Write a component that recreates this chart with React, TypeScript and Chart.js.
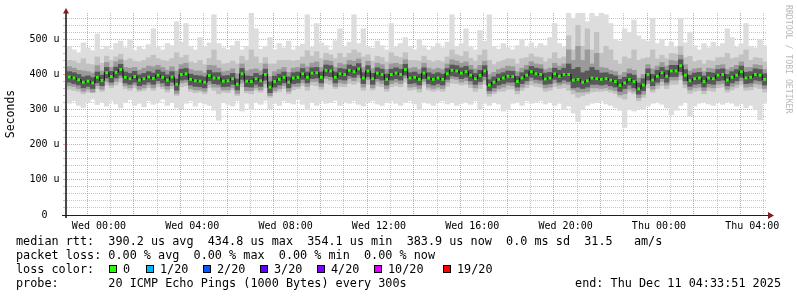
import { useEffect, useRef } from 'react';
import Chart from 'chart.js/auto';

// ---- time axis (hours relative to Wed 00:00) ----
const START_HOUR = -1.37;
const END_HOUR = 28.63;
const STEP_HOURS = 0.2;

// ---- series values (microseconds) ----
const median = [
  393, 390, 385, 378, 381, 376, 392, 383, 405, 394,
  406, 414, 392, 388, 394, 384, 388, 393, 389, 398,
  392, 384, 393, 372, 400, 402, 386, 382, 381, 378,
  397, 390, 390, 381, 382, 388, 372, 402, 381, 380,
  388, 382, 400, 364, 380, 386, 392, 378, 390, 392,
  402, 392, 404, 405, 392, 412, 410, 392, 402, 400,
  412, 408, 416, 390, 410, 388, 404, 400, 386, 400,
  404, 400, 414, 390, 392, 386, 404, 390, 386, 390,
  386, 402, 412, 410, 404, 408, 398, 388, 397, 410,
  370, 378, 386, 390, 395, 394, 380, 390, 398, 408,
  402, 400, 387, 390, 402, 395, 400, 400, 384, 386,
  378, 382, 390, 388, 386, 388, 384, 380, 369, 376,
  386, 380, 359, 370, 400, 384, 395, 405, 395, 410,
  410, 425, 398, 382, 388, 390, 380, 390, 388, 398,
  400, 384, 392, 398, 408, 390, 392, 400, 398, 386,
];

const darkHi = [
  408, 405, 400, 393, 396, 391, 407, 398, 420, 409,
  421, 429, 407, 403, 409, 399, 403, 408, 404, 413,
  407, 399, 408, 387, 415, 417, 401, 397, 396, 393,
  412, 405, 405, 396, 397, 403, 387, 417, 396, 395,
  403, 397, 415, 379, 395, 401, 407, 393, 405, 407,
  417, 407, 419, 420, 407, 427, 425, 407, 417, 415,
  427, 423, 431, 405, 425, 403, 419, 415, 401, 415,
  419, 415, 429, 405, 407, 401, 419, 405, 401, 405,
  401, 417, 427, 425, 419, 423, 413, 403, 412, 425,
  385, 393, 401, 405, 410, 409, 395, 405, 413, 423,
  418, 416, 404, 406, 418, 412, 418, 430, 415, 420,
  405, 410, 420, 412, 404, 405, 400, 396, 386, 392,
  402, 398, 376, 388, 416, 400, 412, 420, 412, 426,
  426, 442, 414, 398, 404, 406, 396, 406, 404, 414,
  416, 400, 408, 414, 424, 406, 408, 416, 414, 402,
];

const darkLo = [
  378, 374, 370, 362, 366, 360, 376, 368, 390, 378,
  390, 398, 376, 372, 378, 368, 372, 378, 372, 382,
  376, 368, 378, 355, 384, 386, 370, 366, 365, 362,
  382, 374, 372, 365, 366, 372, 356, 386, 365, 364,
  372, 366, 384, 348, 364, 370, 376, 362, 374, 376,
  386, 376, 388, 390, 376, 396, 394, 376, 386, 384,
  396, 392, 400, 374, 394, 372, 388, 384, 370, 384,
  388, 384, 398, 374, 376, 370, 388, 374, 370, 374,
  370, 386, 396, 394, 388, 392, 382, 372, 380, 394,
  354, 362, 370, 374, 378, 378, 364, 374, 382, 392,
  386, 384, 372, 374, 386, 378, 384, 380, 362, 364,
  360, 364, 372, 372, 370, 372, 368, 364, 352, 360,
  370, 362, 344, 354, 384, 368, 378, 388, 378, 394,
  394, 408, 382, 366, 372, 374, 364, 374, 372, 382,
  384, 368, 376, 382, 392, 374, 376, 384, 382, 370,
];

const midHi = [
  422, 418, 412, 410, 408, 404, 425, 410, 434, 420,
  436, 442, 420, 418, 420, 412, 418, 424, 422, 426,
  420, 412, 422, 410, 428, 432, 414, 410, 410, 404,
  426, 425, 418, 408, 410, 416, 402, 430, 410, 414,
  416, 410, 430, 394, 408, 414, 420, 406, 418, 420,
  430, 422, 432, 436, 420, 440, 438, 420, 432, 428,
  440, 438, 444, 420, 438, 416, 432, 428, 414, 430,
  432, 428, 442, 418, 420, 414, 432, 418, 414, 418,
  414, 430, 442, 438, 432, 436, 426, 416, 426, 438,
  400, 406, 414, 418, 424, 422, 408, 418, 426, 436,
  430, 428, 414, 418, 432, 424, 430, 470, 440, 480,
  440, 470, 430, 460, 420, 418, 412, 408, 398, 406,
  416, 412, 390, 400, 428, 416, 424, 434, 424, 440,
  438, 455, 428, 410, 416, 418, 408, 418, 416, 426,
  428, 414, 420, 426, 436, 420, 420, 428, 426, 414,
];

const midLo = [
  368, 366, 360, 352, 358, 350, 368, 358, 380, 370,
  380, 390, 368, 362, 370, 358, 362, 370, 362, 374,
  366, 358, 368, 346, 376, 378, 360, 356, 356, 352,
  372, 364, 364, 356, 356, 362, 346, 376, 354, 354,
  362, 356, 374, 340, 354, 360, 368, 352, 366, 366,
  376, 366, 380, 380, 366, 388, 384, 366, 376, 374,
  388, 382, 392, 364, 386, 362, 380, 374, 360, 374,
  378, 374, 390, 364, 366, 360, 380, 364, 360, 364,
  360, 378, 388, 386, 378, 382, 372, 362, 372, 384,
  346, 352, 360, 364, 370, 368, 354, 364, 372, 382,
  376, 374, 362, 364, 376, 370, 374, 372, 356, 350,
  350, 352, 362, 362, 360, 362, 358, 354, 342, 345,
  358, 352, 334, 344, 374, 358, 370, 380, 370, 384,
  384, 398, 372, 356, 362, 364, 354, 364, 362, 372,
  374, 358, 366, 372, 382, 364, 366, 374, 372, 360,
];

const outerHi = [
  440, 438, 432, 445, 430, 428, 450, 432, 452, 440,
  450, 458, 440, 445, 438, 436, 440, 448, 455, 445,
  440, 438, 445, 462, 448, 455, 436, 432, 440, 428,
  445, 470, 440, 430, 432, 438, 430, 452, 440, 470,
  450, 432, 448, 430, 430, 440, 440, 440, 438, 440,
  450, 468, 452, 465, 445, 460, 456, 445, 460, 448,
  460, 470, 462, 450, 456, 438, 452, 448, 436, 462,
  452, 448, 462, 440, 440, 438, 452, 440, 436, 440,
  436, 450, 470, 456, 452, 465, 446, 438, 455, 470,
  440, 428, 436, 440, 445, 444, 430, 445, 448, 458,
  450, 448, 436, 445, 462, 445, 450, 510, 470, 540,
  480, 530, 470, 520, 460, 480, 470, 440, 430, 450,
  445, 470, 440, 445, 448, 470, 444, 455, 445, 460,
  458, 480, 448, 452, 436, 440, 430, 440, 438, 448,
  448, 460, 445, 448, 456, 470, 440, 448, 446, 436,
];

const outerLo = [
  358, 355, 352, 345, 350, 348, 360, 352, 370, 362,
  370, 378, 360, 355, 362, 352, 355, 362, 355, 365,
  360, 350, 360, 340, 365, 368, 352, 348, 350, 345,
  362, 355, 345, 350, 348, 355, 340, 365, 348, 345,
  355, 350, 362, 335, 348, 352, 360, 345, 356, 360,
  368, 355, 370, 368, 358, 375, 372, 360, 366, 365,
  375, 372, 378, 355, 372, 356, 368, 365, 352, 365,
  368, 365, 378, 355, 358, 350, 370, 356, 352, 356,
  352, 366, 375, 374, 370, 372, 362, 352, 360, 372,
  338, 345, 352, 352, 358, 358, 345, 355, 362, 370,
  366, 364, 352, 355, 365, 360, 362, 355, 345, 335,
  340, 345, 350, 352, 352, 354, 350, 346, 335, 330,
  350, 345, 325, 335, 362, 350, 360, 368, 360, 372,
  372, 385, 362, 346, 352, 355, 345, 355, 352, 362,
  364, 350, 356, 362, 370, 355, 356, 364, 360, 350,
];

const lightHi = [
  480, 470, 462, 490, 475, 468, 515, 472, 480, 470,
  488, 495, 476, 500, 468, 480, 472, 485, 530, 478,
  470, 488, 482, 550, 492, 545, 480, 470, 505, 478,
  490, 570, 488, 476, 470, 482, 495, 470, 480, 575,
  530, 472, 480, 505, 470, 488, 476, 495, 470, 480,
  486, 570, 478, 545, 490, 482, 470, 496, 530, 480,
  492, 570, 488, 530, 480, 475, 495, 482, 470, 545,
  478, 488, 505, 480, 470, 500, 482, 470, 478, 488,
  476, 492, 570, 480, 488, 530, 478, 470, 525, 495,
  570, 480, 472, 488, 476, 470, 482, 500, 478, 490,
  476, 488, 482, 505, 545, 488, 478, 575, 560, 575,
  575, 550, 575, 565, 575, 570, 545, 500, 495, 530,
  520, 555, 510, 500, 495, 560, 488, 500, 480, 492,
  478, 560, 490, 520, 482, 470, 488, 476, 492, 480,
  488, 530, 505, 478, 488, 545, 480, 476, 500, 482,
];

const lightLo = [
  318, 325, 312, 306, 320, 330, 314, 322, 310, 326,
  316, 305, 320, 328, 312, 318, 308, 325, 315, 320,
  330, 312, 320, 305, 302, 318, 325, 310, 320, 316,
  312, 298, 270, 320, 315, 310, 325, 296, 318, 300,
  322, 315, 326, 302, 318, 312, 325, 320, 316, 328,
  315, 300, 320, 312, 325, 318, 320, 326, 312, 322,
  318, 325, 315, 310, 320, 325, 316, 312, 320, 325,
  318, 312, 320, 325, 316, 300, 322, 318, 312, 320,
  325, 316, 320, 312, 318, 322, 315, 325, 300, 318,
  312, 320, 316, 296, 300, 318, 322, 312, 325, 318,
  320, 325, 316, 322, 312, 318, 300, 310, 290, 266,
  300, 312, 318, 320, 325, 316, 312, 305, 298, 249,
  300, 296, 302, 300, 310, 318, 322, 315, 305, 285,
  298, 312, 320, 281, 310, 318, 322, 316, 312, 320,
  315, 322, 318, 310, 316, 305, 312, 300, 271, 318,
];

// ---- axes ----
const yGridValues = [
  0, 20, 40, 60, 80, 100, 120, 140, 160, 180, 200, 220, 240, 260, 280,
  300, 320, 340, 360, 380, 400, 420, 440, 460, 480, 500, 520, 540, 560,
];
const yLabelValues = [0, 100, 200, 300, 400, 500];
const yLabels = ['0', '100 u', '200 u', '300 u', '400 u', '500 u'];
const Y_MAX = 575;

const xGridHours = [
  -1, 0, 1, 2, 3, 4, 5, 6, 7, 8, 9, 10, 11, 12, 13, 14, 15,
  16, 17, 18, 19, 20, 21, 22, 23, 24, 25, 26, 27, 28,
];
const xLabelHours = [0, 4, 8, 12, 16, 20, 24, 28];
const xLabels = ['Wed 00:00', 'Wed 04:00', 'Wed 08:00', 'Wed 12:00', 'Wed 16:00', 'Wed 20:00', 'Thu 00:00', 'Thu 04:00'];

// ---- legend texts ----
const rttLine = 'median rtt:  390.2 us avg  434.8 us max  354.1 us min  383.9 us now  0.0 ms sd  31.5   am/s';
const lossLine = 'packet loss: 0.00 % avg  0.00 % max  0.00 % min  0.00 % now';
const lossTitle = 'loss color:';
const lossLabels = ['0', '1/20', '2/20', '3/20', '4/20', '10/20', '19/20'];
const lossColors = ['#26ff00', '#00b8ff', '#0059ff', '#5e00ff', '#7e00ff', '#dd00ff', '#ff0000'];
const probeLine = 'probe:       20 ICMP Echo Pings (1000 Bytes) every 300s';
const endLine = 'end: Thu Dec 11 04:33:51 2025';
const yTitle = 'Seconds';
const watermark = 'RRDTOOL / TOBI OETIKER';

const MONO = '"DejaVu Sans Mono", monospace';
const GRID_MINOR = 'rgba(150,150,150,0.55)';
const GRID_MAJOR = 'rgba(222,79,79,0.55)';

const decorPlugin = {
  id: 'decor',
  afterDraw(chart: any) {
    const ctx = chart.ctx as CanvasRenderingContext2D;
    const { left, right, top, bottom } = chart.chartArea;
    ctx.save();
    // y axis line
    ctx.fillStyle = '#4a4a4a';
    ctx.fillRect(left - 2, top - 1, 2, bottom - top + 4);
    // x axis line
    ctx.fillStyle = '#1f1f1f';
    ctx.fillRect(left - 5, bottom, right - left + 7, 1);
    // arrows
    ctx.fillStyle = '#801f1f';
    ctx.beginPath();
    ctx.moveTo(right + 1, bottom - 3);
    ctx.lineTo(right + 7, bottom + 0.5);
    ctx.lineTo(right + 1, bottom + 4);
    ctx.closePath();
    ctx.fill();
    ctx.beginPath();
    ctx.moveTo(left - 4, top + 0.5);
    ctx.lineTo(left - 1, top - 5);
    ctx.lineTo(left + 2, top + 0.5);
    ctx.closePath();
    ctx.fill();

    // y title
    ctx.fillStyle = '#000';
    ctx.font = `11.5px ${MONO}`;
    ctx.save();
    ctx.translate(11, 114);
    ctx.rotate(-Math.PI / 2);
    ctx.textAlign = 'center';
    ctx.textBaseline = 'middle';
    ctx.fillText(yTitle, 0, 0);
    ctx.restore();

    // watermark
    ctx.save();
    ctx.fillStyle = '#b8b8b8';
    ctx.font = `8.2px ${MONO}`;
    ctx.translate(788, 5);
    ctx.rotate(Math.PI / 2);
    ctx.textAlign = 'left';
    ctx.textBaseline = 'middle';
    ctx.fillText(watermark, 0, 0);
    ctx.restore();

    // legend
    ctx.font = `11.8px ${MONO}`;
    ctx.textAlign = 'left';
    ctx.textBaseline = 'alphabetic';
    ctx.fillStyle = '#000';
    ctx.fillText(rttLine, 16, 245);
    ctx.fillText(lossLine, 16, 259);
    ctx.fillText(lossTitle, 16, 273);
    const boxX = [109, 146, 203, 260, 317, 374, 443];
    lossLabels.forEach((lab, i) => {
      ctx.fillStyle = lossColors[i];
      ctx.fillRect(boxX[i], 265, 8, 8);
      ctx.strokeStyle = '#000';
      ctx.lineWidth = 1;
      ctx.strokeRect(boxX[i] + 0.5, 265.5, 7, 7);
      ctx.fillStyle = '#000';
      ctx.fillText(lab, boxX[i] + 14, 273);
    });
    ctx.fillText(probeLine, 16, 287);
    ctx.textAlign = 'right';
    ctx.fillText(endLine, 781, 287);
    ctx.restore();
  },
};

export default function App() {
  const ref = useRef<HTMLCanvasElement | null>(null);
  useEffect(() => {
    if (!ref.current) return;
    const times = median.map((_, i) => START_HOUR + STEP_HOURS * (i + 0.5));
    const pts = median.map((v, i) => ({ x: times[i], y: v }));
    const band = (lo: number[], hi: number[]) => lo.map((v, i) => ({ x: times[i], y: [v, hi[i]] }));
    const barCommon = { grouped: false, barPercentage: 1, categoryPercentage: 1, borderWidth: 0 };
    const chart = new Chart(ref.current, {
      type: 'bar',
      data: {
        datasets: [
          {
            type: 'line', data: pts, showLine: false, pointStyle: 'rect', pointRadius: 2,
            pointBackgroundColor: '#26ff00', pointBorderWidth: 0, order: 0,
          } as any,
          {
            type: 'line', data: pts, stepped: 'middle', borderColor: '#111', borderWidth: 1,
            pointRadius: 0, order: 1,
          } as any,
          { type: 'bar', data: band(darkLo, darkHi), backgroundColor: '#585858', order: 2, ...barCommon } as any,
          { type: 'bar', data: band(midLo, midHi), backgroundColor: '#9a9a9a', order: 3, ...barCommon } as any,
          { type: 'bar', data: band(outerLo, outerHi), backgroundColor: '#c2c2c2', order: 4, ...barCommon } as any,
          { type: 'bar', data: band(lightLo, lightHi), backgroundColor: '#dddddd', order: 5, ...barCommon } as any,
        ],
      },
      options: {
        animation: false,
        responsive: false,
        layout: { padding: { left: 0, right: 30, top: 13, bottom: 0 } },
        plugins: { legend: { display: false }, tooltip: { enabled: false } },
        scales: {
          x: {
            type: 'linear', min: START_HOUR, max: END_HOUR, offset: false, z: 1,
            afterFit: (s: any) => { s.height = 82; },
            afterBuildTicks: (s: any) => { s.ticks = xGridHours.map((v) => ({ value: v })); },
            grid: {
              color: (c: any) => (c.tick && c.tick.value % 2 === 0 ? GRID_MAJOR : GRID_MINOR),
              drawTicks: false, lineWidth: 1,
            },
            border: { display: false, dash: [1, 1] },
            ticks: {
              autoSkip: false, maxRotation: 0, minRotation: 0, padding: 5, color: '#000',
              font: { family: MONO, size: 10 },
              callback: (v: any) => { const k = xLabelHours.indexOf(Number(v)); return k >= 0 ? xLabels[k] : ''; },
            },
          },
          y: {
            type: 'linear', min: 0, max: Y_MAX, z: 1,
            afterFit: (s: any) => { s.width = 67; },
            afterBuildTicks: (s: any) => { s.ticks = yGridValues.map((v) => ({ value: v })); },
            grid: {
              color: (c: any) => (c.tick && c.tick.value % 100 === 0 ? GRID_MAJOR : GRID_MINOR),
              tickColor: (c: any) => (c.tick && c.tick.value % 100 === 0 ? GRID_MAJOR : GRID_MINOR),
              drawTicks: true, tickLength: 4, lineWidth: 1,
            },
            border: { display: false, dash: [1, 1] },
            ticks: {
              autoSkip: false, crossAlign: 'center', padding: 3.5, color: '#000',
              font: { family: MONO, size: 10 },
              callback: (v: any) => { const k = yLabelValues.indexOf(Number(v)); return k >= 0 ? yLabels[k] : ''; },
            },
          },
        },
      } as any,
      plugins: [decorPlugin],
    });
    return () => chart.destroy();
  }, []);
  return (
    <div style={{ position: 'fixed', left: 0, top: 0, width: 797, height: 297, background: '#fff' }}>
      <canvas ref={ref} width={797} height={297} style={{ display: 'block', width: 797, height: 297 }} />
    </div>
  );
}
